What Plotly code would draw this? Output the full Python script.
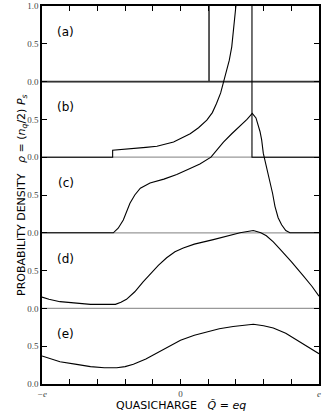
import plotly.graph_objects as go

# quasicharge axis, in units of e
panel_names = ["(a)", "(b)", "(c)", "(d)", "(e)"]

# (a) delta function
xa = [-1.0, 0.206, 0.206, 0.206, 1.0]
ya = [0.0, 0.0, 9.0, 0.0, 0.0]

# (b) diverging density with cut-off
xb = [-1.0, -0.49, -0.49, -0.35, -0.25, -0.17, -0.05, 0.07, 0.13, 0.19, 0.23, 0.26, 0.29,
      0.31, 0.33, 0.352, 0.37, 0.385, 0.40, 0.42, 0.516, 0.516, 1.0]
yb = [0.0, 0.0, 0.093, 0.11, 0.13, 0.145, 0.2, 0.31, 0.39, 0.49, 0.59, 0.71, 0.85,
      0.99, 1.13, 1.28, 1.46, 1.7, 2.0, 2.5, 3.0, 0.0, 0.0]

# (c)
xc = [-1.0, -0.485, -0.45, -0.413, -0.365, -0.33, -0.29, -0.25, -0.22, -0.12, -0.027, 0.069,
      0.14, 0.22, 0.31, 0.37, 0.43, 0.48, 0.518, 0.545, 0.574, 0.586, 0.598, 0.62, 0.646,
      0.665, 0.682, 0.705, 0.73, 0.76, 0.79, 1.0]
yc = [0.0, 0.0, 0.06, 0.17, 0.39, 0.50, 0.59, 0.63, 0.66, 0.71, 0.77, 0.85,
      0.91, 1.0, 1.2, 1.31, 1.41, 1.5, 1.58, 1.52, 1.34, 1.23, 1.05, 0.87, 0.70,
      0.52, 0.35, 0.2, 0.106, 0.03, 0.0, 0.0]

# (d)
xd = [-1.0, -0.95, -0.87, -0.75, -0.65, -0.47, -0.43, -0.39, -0.33, -0.27, -0.22, -0.16,
      -0.10, -0.04, 0.02, 0.1, 0.237, 0.33, 0.43, 0.526, 0.58, 0.62, 0.67, 0.72, 0.80,
      0.887, 0.95, 1.0]
yd = [0.15, 0.12, 0.089, 0.065, 0.053, 0.053, 0.08, 0.12, 0.22, 0.35, 0.45, 0.57,
      0.67, 0.75, 0.80, 0.85, 0.91, 0.955, 1.0, 1.03, 1.0, 0.96, 0.88, 0.78, 0.62,
      0.43, 0.29, 0.16]

# (e)
xe = [-1.0, -0.93, -0.87, -0.75, -0.65, -0.55, -0.46, -0.40, -0.34, -0.25, -0.17, -0.08,
      0.0, 0.1, 0.19, 0.28, 0.38, 0.46, 0.526, 0.6, 0.67, 0.76, 0.84, 0.92, 1.0]
ye = [0.37, 0.33, 0.295, 0.26, 0.23, 0.215, 0.215, 0.23, 0.26, 0.33, 0.41, 0.50,
      0.58, 0.645, 0.69, 0.73, 0.76, 0.78, 0.79, 0.77, 0.74, 0.67, 0.58, 0.49, 0.40]

xtick_vals = [-1.0, -0.8, -0.6, -0.4, -0.2, 0.0, 0.2, 0.4, 0.6, 0.8, 1.0]
xtick_text = ["<i>−e</i>", "", "", "", "", "0", "", "", "", "", "<i>e</i>"]

curves = [(xa, ya), (xb, yb), (xc, yc), (xd, yd), (xe, ye)]
n = len(curves)

fig = go.Figure()

# panel baselines
for k in range(1, n):
    fig.add_shape(type="line", xref="x", yref="y", x0=-1, x1=1, y0=k, y1=k,
                  line=dict(color="#999999", width=1.3), layer="below")

for i, (xs, ys) in enumerate(curves):
    base = n - 1 - i
    fig.add_trace(go.Scatter(x=xs, y=[v + base for v in ys], mode="lines",
                             line=dict(color="#333" if i == 0 else "black",
                                       width=1.6 if i == 0 else 1.1),
                             showlegend=False, hoverinfo="skip"))
    fig.add_annotation(x=-0.83, y=base + 0.66, text=panel_names[i], showarrow=False,
                       font=dict(size=12, color="black", family="DejaVu Sans"))

ytick_vals = [k * 0.5 for k in range(2 * n + 1)]
ytick_text = ["0.0" if k % 2 == 0 else "0.5" for k in range(2 * n + 1)]
ytick_text[-1] = "1.0"

# axis titles as annotations for exact placement
fig.add_annotation(xref="paper", yref="paper", x=-0.105, y=0.5, textangle=-90,
                   text="PROBABILITY DENSITY   <i>ρ</i> = (<i>n<sub>q</sub></i>/2) <i>P<sub>s</sub></i>",
                   showarrow=False, font=dict(family="DejaVu Sans", size=11, color="black"))
fig.add_annotation(xref="paper", yref="paper", x=0.5, y=-0.056, yanchor="middle",
                   text="QUASICHARGE   <i>Q̃</i> = <i>eq</i>",
                   showarrow=False, font=dict(family="DejaVu Sans", size=11, color="black"))

fig.update_layout(
    width=325, height=420,
    margin=dict(l=42, r=6, t=6, b=36),
    plot_bgcolor="white", paper_bgcolor="white",
    xaxis=dict(range=[-1, 1], tickvals=xtick_vals, ticktext=xtick_text, automargin=False,
               ticks="inside", ticklen=5, tickcolor="black", showgrid=False, zeroline=False,
               showline=True, linecolor="black", linewidth=1.5, mirror="ticks",
               tickfont=dict(family="Liberation Serif", size=9, color="#444")),
    yaxis=dict(range=[0, n], tickvals=ytick_vals, ticktext=ytick_text, automargin=False,
               ticks="inside", ticklen=5, tickcolor="black", showgrid=False, zeroline=False,
               showline=True, linecolor="black", linewidth=1.5, mirror="ticks",
               tickfont=dict(family="Liberation Serif", size=9, color="#444")),
)

fig.write_html("out.html", config={"displayModeBar": False},
               post_script="document.body.style.margin='0';")
